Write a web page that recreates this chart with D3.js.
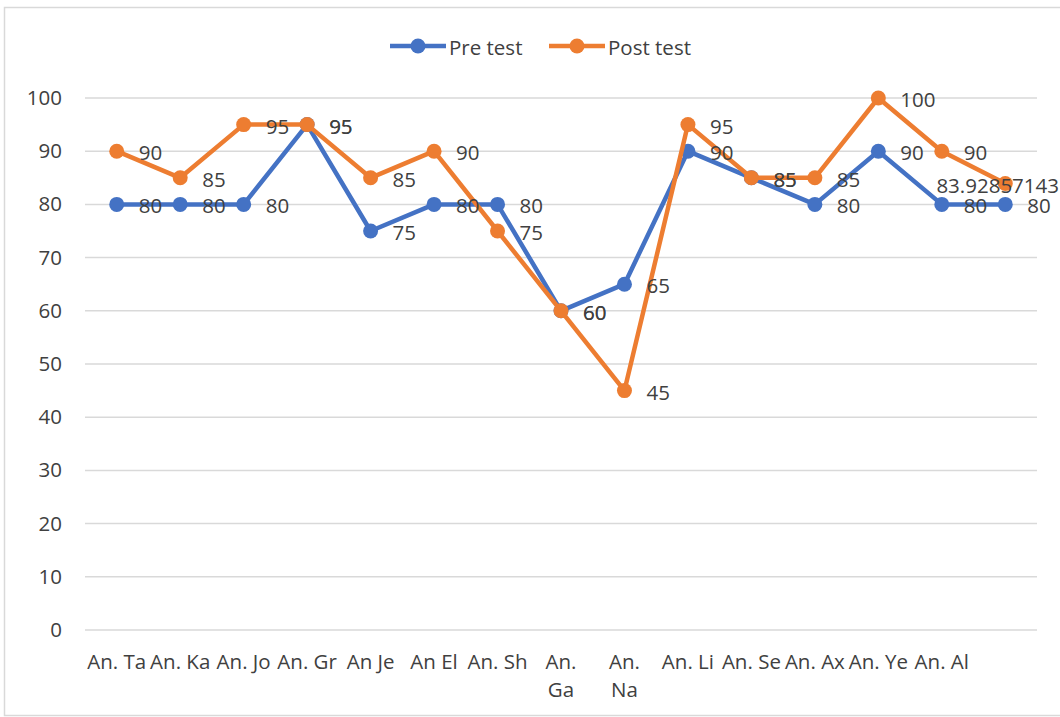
<!DOCTYPE html>
<html>
<head>
<meta charset="utf-8">
<script src="https://cdn.jsdelivr.net/npm/d3@7"></script>
<style>
  body { margin: 0; background: #fff; }
  svg text { font-family: "Open Sans", sans-serif; fill: #404040; }
</style>
</head>
<body>
<script>
// categories (two of them wrap onto two lines in the original)
var categories = ["An. Ta", "An. Ka", "An. Jo", "An. Gr", "An Je", "An El", "An. Sh",
  "An. Ga", "An. Na", "An. Li", "An. Se", "An. Ax", "An. Ye", "An. Al", ""];
var wrapped = ["An. Ga", "An. Na"];

var preTest  = [80, 80, 80, 95, 75, 80, 80, 60, 65, 90, 85, 80, 90, 80, 80];
var postTest = [90, 85, 95, 95, 85, 90, 75, 60, 45, 95, 85, 85, 100, 90, 83.92857143];

var yTicks = [0, 10, 20, 30, 40, 50, 60, 70, 80, 90, 100];

var series = [
  {name: "Pre test", values: preTest, color: "#4472C4"},
  {name: "Post test", values: postTest, color: "#ED7D31"}
];

var fullwidth = 1060, fullheight = 717;
var margin = {top: 98, right: 23, bottom: 87, left: 85},
    width = fullwidth - margin.left - margin.right,
    height = fullheight - margin.top - margin.bottom;
var fontSize = "20.5px";

var svg = d3.select("body").append("svg")
    .attr("width", fullwidth)
    .attr("height", fullheight);

// chart area border
svg.append("rect")
    .attr("x", 4.5).attr("y", 7.5)
    .attr("width", 1100).attr("height", 708)
    .attr("fill", "none")
    .attr("stroke", "#d9d9d9")
    .attr("stroke-width", 1.5);

var g = svg.append("g")
    .attr("transform", "translate(" + margin.left + "," + margin.top + ")");

var x = d3.scaleBand().domain(d3.range(categories.length)).range([0, width]);
var y = d3.scaleLinear().domain([0, 100]).range([height, 0]);
function cx(i) { return x(i) + x.bandwidth() / 2; }

// gridlines
g.append("g").selectAll("line")
    .data(yTicks)
  .enter().append("line")
    .attr("x1", 0).attr("x2", width)
    .attr("y1", function(d) { return y(d); })
    .attr("y2", function(d) { return y(d); })
    .attr("stroke", "#d9d9d9")
    .attr("stroke-width", 1.5);

// y axis labels
var yAxis = g.append("g")
    .call(d3.axisLeft(y).tickValues(yTicks).tickSize(0).tickPadding(23));
yAxis.select(".domain").remove();
yAxis.selectAll("text")
    .style("font-size", fontSize)
    .attr("fill", "#595959");

// x axis labels
var xAxis = g.append("g")
    .attr("transform", "translate(0," + height + ")")
    .call(d3.axisBottom(x).tickSize(0).tickFormat(function(i) { return categories[i]; }));
xAxis.select(".domain").remove();
xAxis.selectAll("text")
    .style("font-size", fontSize)
    .attr("fill", "#595959")
    .attr("y", 0)
    .attr("dy", 0)
    .each(function(i) {
      var t = d3.select(this), label = categories[i];
      t.text(null);
      var lines = wrapped.indexOf(label) >= 0 ? label.split(" ") : [label];
      lines.forEach(function(l, k) {
        t.append("tspan").attr("x", 0).attr("y", 39 + k * 28).text(l);
      });
    });

// lines and markers
var line = d3.line()
    .x(function(d, i) { return cx(i); })
    .y(function(d) { return y(d); });

series.forEach(function(s) {
  g.append("path")
      .datum(s.values)
      .attr("fill", "none")
      .attr("stroke", s.color)
      .attr("stroke-width", 4.5)
      .attr("stroke-linejoin", "round")
      .attr("d", line);
  g.selectAll(null)
      .data(s.values)
    .enter().append("circle")
      .attr("cx", function(d, i) { return cx(i); })
      .attr("cy", function(d) { return y(d); })
      .attr("r", 7.5)
      .attr("fill", s.color);
});

// data labels, right of the points, kept inside the chart area
series.forEach(function(s) {
  g.selectAll(null)
      .data(s.values)
    .enter().append("text")
      .style("font-size", fontSize)
      .attr("dominant-baseline", "central")
      .attr("y", function(d) { return y(d) + 1; })
      .text(function(d) { return d; })
      .attr("x", function(d, i) {
        var w = this.getComputedTextLength();
        var px = cx(i) + 22;
        var maxX = fullwidth - margin.left - 1;
        return px + w > maxX ? maxX - w : px;
      });
});

// legend
var legend = svg.append("g").attr("transform", "translate(0,46)");
var legendX = [390, 549];
series.forEach(function(s, i) {
  var lg = legend.append("g").attr("transform", "translate(" + legendX[i] + ",0)");
  lg.append("line")
      .attr("x1", 0).attr("x2", 56)
      .attr("stroke", s.color)
      .attr("stroke-width", 4.5);
  lg.append("circle")
      .attr("cx", 28).attr("r", 7.5)
      .attr("fill", s.color);
  lg.append("text")
      .attr("x", 59)
      .attr("dominant-baseline", "central")
      .attr("y", 1)
      .style("font-size", fontSize)
      .attr("fill", "#595959")
      .text(s.name);
});
</script>
</body>
</html>
